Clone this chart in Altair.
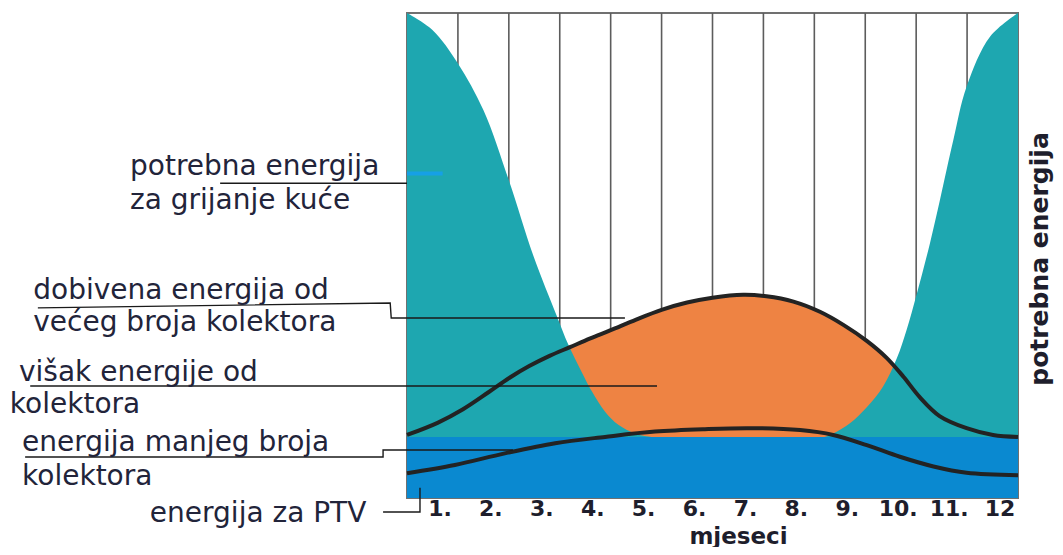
import json
import altair as alt
import pandas as pd

# ---------------- data ----------------
MONTH_LABELS = ["1.", "2.", "3.", "4.", "5.", "6.", "7.", "8.", "9.", "10.", "11.", "12"]
MONTH_EDGES = [1, 2, 3, 4, 5, 6, 7, 8, 9, 10, 11]

# heating demand (teal)
HEAT_X = [0, 0.5, 1.0, 1.5, 2.0, 2.48, 2.94, 3.17, 3.43, 3.63, 3.89, 4.15, 4.48, 4.8, 6.5, 8.2,
          8.37, 8.70, 9.03, 9.35, 9.62, 9.81, 10.01, 10.27, 10.47, 10.73, 10.99, 11.45, 12]
HEAT_Y = [100, 96.5, 89.6, 80.0, 65.5, 50.0, 37.6, 31.6, 26.0, 22.0, 17.8, 15.1, 13.3, 12.6, 12.6, 12.6,
          13.3, 15.4, 18.7, 23.0, 28.8, 34.6, 42.0, 52.5, 61.6, 73.8, 84.8, 95.1, 100]

# energy from larger number of collectors
LARGE_X = [0, 0.6, 1.1, 1.6, 2.0, 2.4, 2.8, 3.2, 3.6, 4.0, 4.5, 5.0, 5.5, 6.0, 6.6,
           7.06, 7.59, 8.11, 8.57, 9.03, 9.42, 9.75, 10.07, 10.46, 10.99, 11.51, 12]
LARGE_Y = [13.0, 15.5, 18.3, 21.8, 24.7, 27.2, 29.3, 31.1, 32.9, 34.6, 36.8, 38.8, 40.3, 41.3, 41.9,
           41.6, 40.5, 38.4, 35.7, 32.4, 28.9, 25.0, 20.8, 16.9, 14.4, 13.0, 12.6]

# energy from smaller number of collectors
SMALL_X = [0, 0.94, 1.92, 2.91, 3.89, 4.87, 5.85, 6.74, 7.72, 8.37, 9.03, 9.68, 10.34, 10.99, 12]
SMALL_Y = [5.1, 6.8, 9.2, 11.3, 12.6, 13.7, 14.2, 14.4, 14.0, 13.0, 10.9, 8.5, 6.5, 5.2, 4.7]

# hot tap water energy (PTV), constant band
PTV_LEVEL = 12.6

# annotation texts (x in months, y in energy units)
ANN_TEXT = ["potrebna energija", "za grijanje kuće",
            "dobivena energija od", "većeg broja kolektora",
            "višak energije od", "kolektora",
            "energija manjeg broja", "kolektora",
            "energija za PTV"]
ANN_X = [-5.44, -5.44, -7.34, -7.34, -7.62, -7.80, -7.56, -7.56, -5.05]
ANN_Y = [68.3, 61.2, 42.7, 36.1, 25.8, 19.2, 11.3, 4.3, -3.3]

# leader lines
LEAD_ID = [1, 1, 2, 2, 2, 2, 3, 3, 4, 4, 4, 4, 5, 5, 5]
LEAD_X = [-3.67, 0.0, -7.25, -0.33, -0.31, 4.28, -7.40, 4.91, -7.50, -0.47, -0.47, 2.08, -0.47, 0.255, 0.255]
LEAD_Y = [64.9, 64.9, 39.2, 40.2, 37.1, 37.1, 23.1, 23.1, 8.45, 8.45, 9.9, 9.9, -2.9, -2.9, 2.1]

DASH_X = [0.0, 0.70]
DASH_Y = [66.9, 66.9]

Y_TITLE = "potrebna energija"
X_TITLE = "mjeseci"

# ---------------- frames ----------------
heat_df = pd.DataFrame({"x": HEAT_X, "y": HEAT_Y, "b": [0] * len(HEAT_X)})
large_df = pd.DataFrame({"x": LARGE_X, "y": LARGE_Y, "b": [0] * len(LARGE_X)})
small_df = pd.DataFrame({"x": SMALL_X, "y": SMALL_Y})
ptv_df = pd.DataFrame({"x": [0], "x2": [12], "y": [0], "y2": [PTV_LEVEL]})
edge_df = pd.DataFrame({"x": MONTH_EDGES})
ann_df = pd.DataFrame({"x": ANN_X, "y": ANN_Y, "t": ANN_TEXT})
lead_df = pd.DataFrame({"id": LEAD_ID, "x": LEAD_X, "y": LEAD_Y, "o": list(range(len(LEAD_X)))})
dash_df = pd.DataFrame({"x": DASH_X, "y": DASH_Y})
ytitle_df = pd.DataFrame({"t": [Y_TITLE]})

XS = alt.Scale(domain=[0, 12], nice=False, zero=False)
YS = alt.Scale(domain=[0, 100], nice=False, zero=False)

label_expr = json.dumps(MONTH_LABELS) + "[round(datum.value - 0.5)]"
XAX = alt.Axis(
    values=[i + 0.5 for i in range(12)],
    labelExpr=label_expr,
    labelFont="DejaVu Sans", labelFontWeight="bold", labelFontSize=22,
    labelColor="#1e1e2c", labelOffset=7, labelPadding=10, labelBaseline="middle",
    labelFlush=False, labelOverlap=False,
    ticks=False, tickSize=0, domain=False, grid=False,
    title=X_TITLE, titleFont="DejaVu Sans", titleFontWeight="bold", titleFontSize=23,
    titleColor="#1e1e2c", titleX=331, titleY=38, titleBaseline="middle", titleAlign="center",
)


def X(field="x"):
    return alt.X(f"{field}:Q", scale=XS, axis=XAX)


def Y(field="y"):
    return alt.Y(f"{field}:Q", scale=YS, axis=None)


CURVE = "catmull-rom"

grid = alt.Chart(edge_df).mark_rule(color="#5c5c5c", strokeWidth=1.6).encode(x=X())

orange = alt.Chart(large_df).mark_area(color="#ee8343", interpolate=CURVE, opacity=1).encode(
    x=X(), y=Y(), y2="b:Q")

teal = alt.Chart(heat_df).mark_area(color="#1ea7b0", interpolate=CURVE, opacity=1).encode(
    x=X(), y=Y(), y2="b:Q")

blue = alt.Chart(ptv_df).mark_rect(color="#0a89d0", opacity=1).encode(
    x=X(), x2="x2:Q", y=Y(), y2="y2:Q")

large_line = alt.Chart(large_df).mark_line(color="#232323", strokeWidth=4, interpolate=CURVE).encode(
    x=X(), y=Y())

small_line = alt.Chart(small_df).mark_line(color="#232323", strokeWidth=4, interpolate=CURVE).encode(
    x=X(), y=Y())

dash = alt.Chart(dash_df).mark_line(color="#16a0e6", strokeWidth=4).encode(x=X(), y=Y())

leaders = alt.Chart(lead_df).mark_line(color="#1a1a1a", strokeWidth=1.4).encode(
    x=X(), y=Y(), detail="id:N", order="o:Q")

texts = alt.Chart(ann_df).mark_text(
    align="left", baseline="middle", font="DejaVu Sans", fontSize=28, color="#22243a"
).encode(x=X(), y=Y(), text="t:N")

ytitle = alt.Chart(ytitle_df).mark_text(
    angle=270, align="center", baseline="middle", font="DejaVu Sans", fontWeight="bold",
    fontSize=25, color="#1e1e2c"
).encode(x=alt.value(633), y=alt.value(246), text="t:N")

chart = alt.layer(grid, orange, teal, blue, large_line, small_line, dash, leaders, texts, ytitle).properties(
    width=611, height=485,
    autosize=alt.AutoSizeParams(type="none"),
    padding={"left": 399, "top": 5, "right": 37, "bottom": 49},
    background="white",
).configure_view(stroke="#707070", strokeWidth=2)

chart.save("out.html", embed_options={"renderer": "svg", "actions": False})
